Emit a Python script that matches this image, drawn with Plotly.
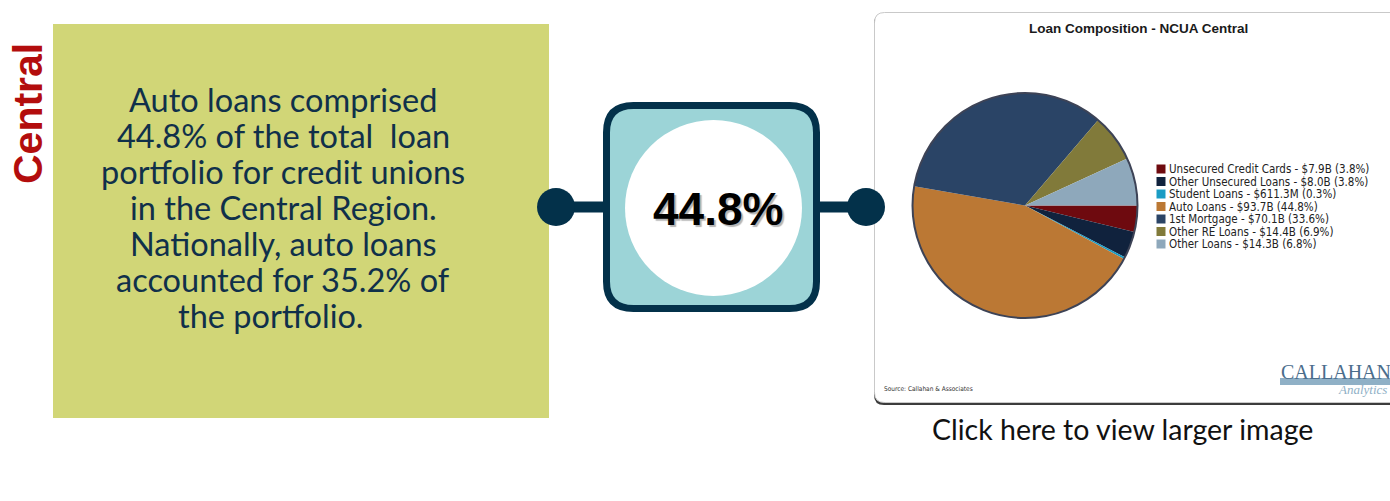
import plotly.graph_objects as go

# ---------------- data ----------------
categories = ["Unsecured Credit Cards", "Other Unsecured Loans", "Student Loans",
              "Auto Loans", "1st Mortgage", "Other RE Loans", "Other Loans"]
values_bn = [7.9, 8.0, 0.6113, 93.7, 70.1, 14.4, 14.3]
amount_labels = ["$7.9B", "$8.0B", "$611.3M", "$93.7B", "$70.1B", "$14.4B", "$14.3B"]
pct_labels = ["3.8%", "3.8%", "0.3%", "44.8%", "33.6%", "6.9%", "6.8%"]
slice_colors = ["#6e0a0f", "#10223d", "#1a9cc4", "#bb7834", "#2a4466", "#817a3a", "#8ea8bb"]

headline_value = "44.8%"
region_label = "Central"
body_lines = ["Auto loans comprised", "44.8% of the total  loan", "portfolio for credit unions",
              "in the Central Region.", "Nationally, auto loans", "accounted for 35.2% of",
              "the portfolio.\u00a0\u00a0\u00a0"]
chart_title = "Loan Composition - NCUA Central"
source_text = "Source: Callahan & Associates"
link_text = "Click here to view larger image"

W, H = 1390, 501
NAVY = "#03314a"


def rrect(x0, y0, x1, y1, r):
    return (f"M{x0+r},{y0} L{x1-r},{y0} Q{x1},{y0} {x1},{y0+r} L{x1},{y1-r} "
            f"Q{x1},{y1} {x1-r},{y1} L{x0+r},{y1} Q{x0},{y1} {x0},{y1-r} "
            f"L{x0},{y0+r} Q{x0},{y0} {x0+r},{y0} Z")


fig = go.Figure()

# pie chart
pie_x0, pie_x1, pie_y0, pie_y1 = 912.5, 1137.5, 93, 318
fig.add_trace(go.Pie(
    labels=categories, values=values_bn, sort=False, direction="clockwise", rotation=90,
    marker=dict(colors=slice_colors, line=dict(width=0)),
    textinfo="none", hoverinfo="label+percent", showlegend=False,
    domain=dict(x=[pie_x0 / W, pie_x1 / W], y=[1 - pie_y1 / H, 1 - pie_y0 / H]),
))

# legend built from data
leg_y0, leg_dy = 169, 12.5
leg_y = [leg_y0 + i * leg_dy for i in range(len(categories))]
fig.add_trace(go.Scatter(
    x=[1161] * len(categories), y=leg_y, mode="markers",
    marker=dict(symbol="square", size=9, color=slice_colors, line=dict(width=0)),
    hoverinfo="skip", showlegend=False,
))

shapes = []
# green box
shapes.append(dict(type="rect", x0=53, x1=549, y0=24, y1=418, fillcolor="#d1d677",
                   line=dict(width=0), layer="below"))
# chart card (shadow + card)
shapes.append(dict(type="path", path=rrect(874, 14, 1420, 405, 10), fillcolor="#3c3c3c",
                   line=dict(width=0), layer="below"))
shapes.append(dict(type="path", path=rrect(874.5, 12.5, 1420, 402.5, 10), fillcolor="white",
                   line=dict(color="#c9c9c9", width=1), layer="below"))
# connectors
shapes.append(dict(type="line", x0=556, x1=606, y0=207, y1=207, line=dict(color=NAVY, width=11), layer="below"))
shapes.append(dict(type="line", x0=816, x1=866, y0=207, y1=207, line=dict(color=NAVY, width=11), layer="below"))
shapes.append(dict(type="circle", x0=537, x1=575, y0=188, y1=226, fillcolor=NAVY, line=dict(width=0), layer="below"))
shapes.append(dict(type="circle", x0=847, x1=885, y0=188, y1=226, fillcolor=NAVY, line=dict(width=0), layer="below"))
# badge
shapes.append(dict(type="path", path=rrect(606.5, 105.5, 816.5, 308.5, 27), fillcolor="#9cd4d7",
                   line=dict(color=NAVY, width=7), layer="below"))
shapes.append(dict(type="circle", x0=625, x1=802, y0=120, y1=296, fillcolor="white",
                   line=dict(width=0), layer="below"))
# pie outline
shapes.append(dict(type="circle", x0=pie_x0, x1=pie_x1, y0=pie_y0, y1=pie_y1,
                   line=dict(color="#3d4356", width=2), layer="above"))
# logo bar
shapes.append(dict(type="rect", x0=1280, x1=1392, y0=378, y1=385, fillcolor="#8fb0c6",
                   line=dict(width=0), layer="below"))

annotations = []
# region label
annotations.append(dict(x=28, y=114, text=f"<b>{region_label}</b>", textangle=-90, showarrow=False,
                        font=dict(family="Liberation Sans", size=41, color="#b30d0d"),
                        xanchor="center", yanchor="middle"))
# body text
body_y0, body_dy = 99, 36
for i, line in enumerate(body_lines):
    annotations.append(dict(x=283, y=body_y0 + i * body_dy, text=line, showarrow=False,
                            font=dict(family="Lato", size=32.5, color="#10304a"),
                            xanchor="center", yanchor="middle"))
# headline value
annotations.append(dict(x=718, y=209, text=f"<b>{headline_value}</b>", showarrow=False,
                        font=dict(family="Liberation Sans", size=46, color="black",
                                  shadow="2px 2px 1px #b5b5b5"),
                        xanchor="center", yanchor="middle"))
# chart title
annotations.append(dict(x=1138, y=28, text=f"<b>{chart_title}</b>", showarrow=False,
                        font=dict(family="Liberation Sans", size=13.5, color="#1a1a1a"),
                        xanchor="center", yanchor="middle"))
# legend labels
for yv, cat, amt, pct in zip(leg_y, categories, amount_labels, pct_labels):
    annotations.append(dict(x=1167, y=yv, text=f"{cat} - {amt} ({pct})", showarrow=False,
                            font=dict(family="DejaVu Sans Condensed", size=11.5, color="#222222"),
                            xanchor="left", yanchor="middle"))
# source
annotations.append(dict(x=882, y=389, text=source_text, showarrow=False,
                        font=dict(family="DejaVu Sans Condensed", size=6.5, color="#333333"),
                        xanchor="left", yanchor="middle"))
# logo
annotations.append(dict(x=1279, y=372, text="CALLAHAN", showarrow=False,
                        font=dict(family="Liberation Serif", size=20, color="#4b6d8c"),
                        xanchor="left", yanchor="middle"))
annotations.append(dict(x=1389, y=389, text="<i>Analytics</i>", showarrow=False,
                        font=dict(family="Liberation Serif", size=13, color="#8fb0c6"),
                        xanchor="right", yanchor="middle"))
# link
annotations.append(dict(x=1122, y=429, text=link_text, showarrow=False,
                        font=dict(family="Lato", size=28.5, color="#111111"),
                        xanchor="center", yanchor="middle"))

fig.update_layout(
    width=W, height=H, margin=dict(l=0, r=0, t=0, b=0),
    paper_bgcolor="white", plot_bgcolor="white",
    xaxis=dict(range=[0, W], visible=False, fixedrange=True),
    yaxis=dict(range=[H, 0], visible=False, fixedrange=True),
    shapes=shapes, annotations=annotations, showlegend=False,
)

fig.write_html("out.html")
